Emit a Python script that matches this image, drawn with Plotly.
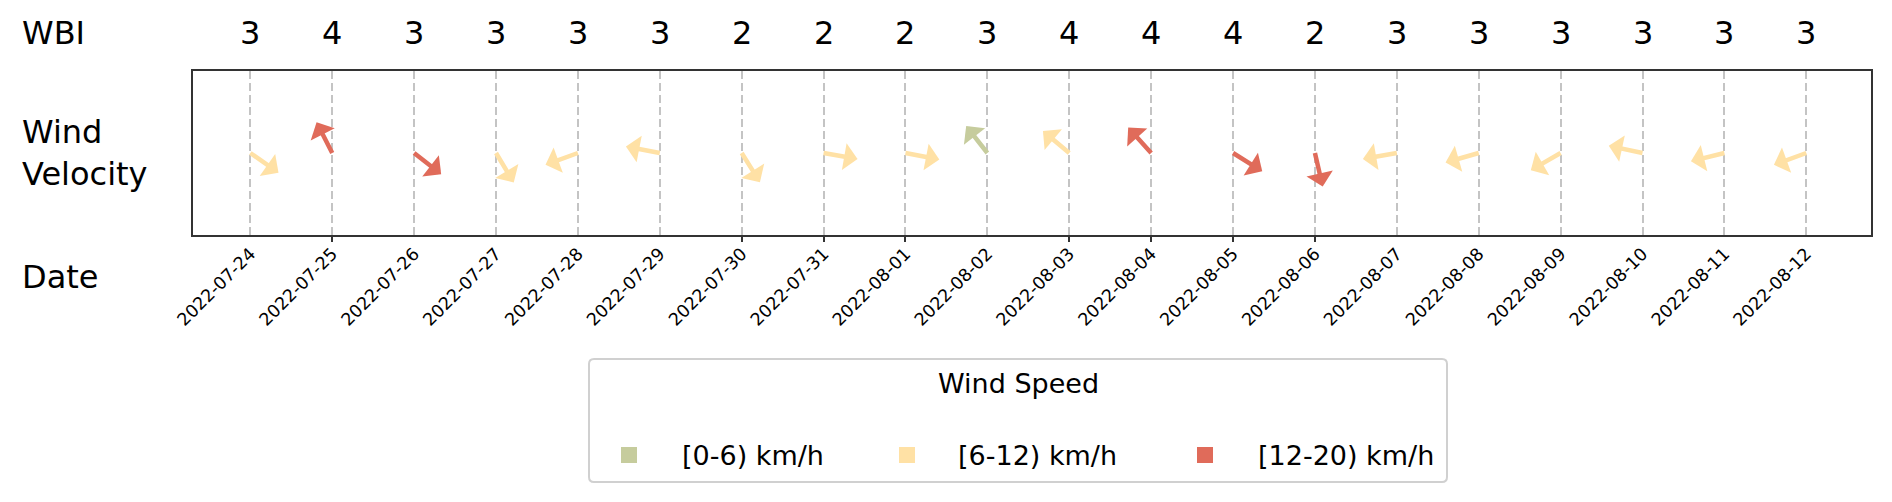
import math
import plotly.graph_objects as go

# data
dates = ["2022-07-24", "2022-07-25", "2022-07-26", "2022-07-27", "2022-07-28",
         "2022-07-29", "2022-07-30", "2022-07-31", "2022-08-01", "2022-08-02",
         "2022-08-03", "2022-08-04", "2022-08-05", "2022-08-06", "2022-08-07",
         "2022-08-08", "2022-08-09", "2022-08-10", "2022-08-11", "2022-08-12"]
wbi = [3, 4, 3, 3, 3, 3, 2, 2, 2, 3, 4, 4, 4, 2, 3, 3, 3, 3, 3, 3]
# direction the arrow points, degrees clockwise from north
wind_dir = [125, 333, 128, 149, 250, 281, 148, 100, 101, 322,
            310, 318, 122, 167, 260, 254, 240, 282, 256, 250]
# 0 -> [0-6), 1 -> [6-12), 2 -> [12-20)
speed_class = [1, 2, 2, 1, 1, 1, 1, 1, 1, 0, 1, 2, 2, 2, 1, 1, 1, 1, 1, 1]
speed_labels = ["[0-6) km/h", "[6-12) km/h", "[12-20) km/h"]
speed_colors = ["#c6cc9d", "#ffe1a5", "#e06b5a"]
tick_marks = [1, 6, 7, 8, 10, 11, 12, 13]

# page body has an 8px margin, so the figure is a bit smaller and
# all screen positions below are shifted by OFF
OFF = 8
W, H = 1892 - OFF, 502 - OFF
L_, T_ = 193 - OFF, 71 - OFF
R_ = W - (1871 - OFF)
B_ = H - (235 - OFF)
PW, PH = W - L_ - R_, H - T_ - B_
FONT = "DejaVu Sans"


def px(x):
    return (x - OFF - L_) / PW


def py(y):
    return (H - B_ - (y - OFF)) / PH


idx = list(range(len(dates)))

fig = go.Figure()
fig.add_trace(go.Scatter(x=idx, y=[0] * len(idx), mode="markers",
                         marker=dict(size=1, opacity=0), showlegend=False,
                         text=[f"{d}: {speed_labels[c]}" for d, c in zip(dates, speed_class)],
                         hoverinfo="text"))
fig.add_trace(go.Scatter(x=[None], y=[None], xaxis="x2", showlegend=False))

arrow_len = 35
for i, (d, c) in enumerate(zip(wind_dir, speed_class)):
    a = math.radians(d)
    fig.add_annotation(x=i, y=0, xref="x", yref="y", text="",
                       font=dict(size=1), borderpad=0,
                       showarrow=True, arrowside="start",
                       ax=arrow_len * math.sin(a), ay=-arrow_len * math.cos(a),
                       arrowhead=2, arrowsize=0.5, arrowwidth=4.5,
                       arrowcolor=speed_colors[c])

for i, w in enumerate(wbi):
    fig.add_annotation(x=i, y=py(33), xref="x", yref="paper", text=str(w),
                       showarrow=False, xanchor="center", yanchor="middle",
                       font=dict(size=32, color="black"))

for txt, yy in [("WBI", 33), ("Wind<br>Velocity", 153), ("Date", 277)]:
    fig.add_annotation(x=px(20), y=py(yy), xref="paper", yref="paper", text=txt,
                       showarrow=False, xanchor="left", yanchor="middle", align="left",
                       font=dict(size=32, color="black"))

# legend drawn by hand, box with rounded corners
lx0, lx1, ly0, ly1 = px(589), px(1447), py(482), py(359)
rx, ry = 5 / PW, 5 / PH
box = (f"M {lx0 + rx},{ly0} L {lx1 - rx},{ly0} Q {lx1},{ly0} {lx1},{ly0 + ry} "
       f"L {lx1},{ly1 - ry} Q {lx1},{ly1} {lx1 - rx},{ly1} "
       f"L {lx0 + rx},{ly1} Q {lx0},{ly1} {lx0},{ly1 - ry} "
       f"L {lx0},{ly0 + ry} Q {lx0},{ly0} {lx0 + rx},{ly0} Z")
fig.add_shape(type="path", path=box, xref="paper", yref="paper",
              line=dict(color="#d0d0d0", width=2), fillcolor="white")
fig.add_annotation(x=px(1018), y=py(383), xref="paper", yref="paper", text="Wind Speed",
                   showarrow=False, xanchor="center", yanchor="middle",
                   font=dict(size=27, color="black"))
for cx, tx, lab, col in zip([629, 907, 1205], [680, 956, 1256], speed_labels, speed_colors):
    fig.add_shape(type="rect", xref="paper", yref="paper",
                  x0=px(cx - 8), x1=px(cx + 8), y0=py(463), y1=py(447),
                  line=dict(width=0), fillcolor=col)
    fig.add_annotation(x=px(tx), y=py(455), xref="paper", yref="paper", text=lab,
                       showarrow=False, xanchor="left", yanchor="middle",
                       font=dict(size=27, color="black"))

fig.update_layout(
    width=W, height=H,
    margin=dict(l=L_, r=R_, t=T_, b=B_),
    paper_bgcolor="white", plot_bgcolor="white",
    font=dict(family=FONT, color="black"),
    showlegend=False,
    xaxis=dict(range=[-0.70, 19.79], tickvals=idx, ticktext=dates, tickangle=-45,
               tickfont=dict(size=17.5), ticks="",
               showgrid=True, gridcolor="#c4c4c4", gridwidth=2, griddash="8px,4px",
               showline=True, mirror=True, linecolor="#333333", linewidth=1.5,
               zeroline=False),
    xaxis2=dict(overlaying="x", matches="x", side="bottom", tickvals=tick_marks,
                showticklabels=False, ticks="outside", ticklen=6, tickwidth=1.5,
                tickcolor="#333333", showgrid=False, zeroline=False, showline=False),
    yaxis=dict(range=[-1, 1], showticklabels=False, showgrid=False, zeroline=False,
               showline=True, mirror=True, linecolor="#333333", linewidth=1.5),
)

fig.write_html("out.html")
